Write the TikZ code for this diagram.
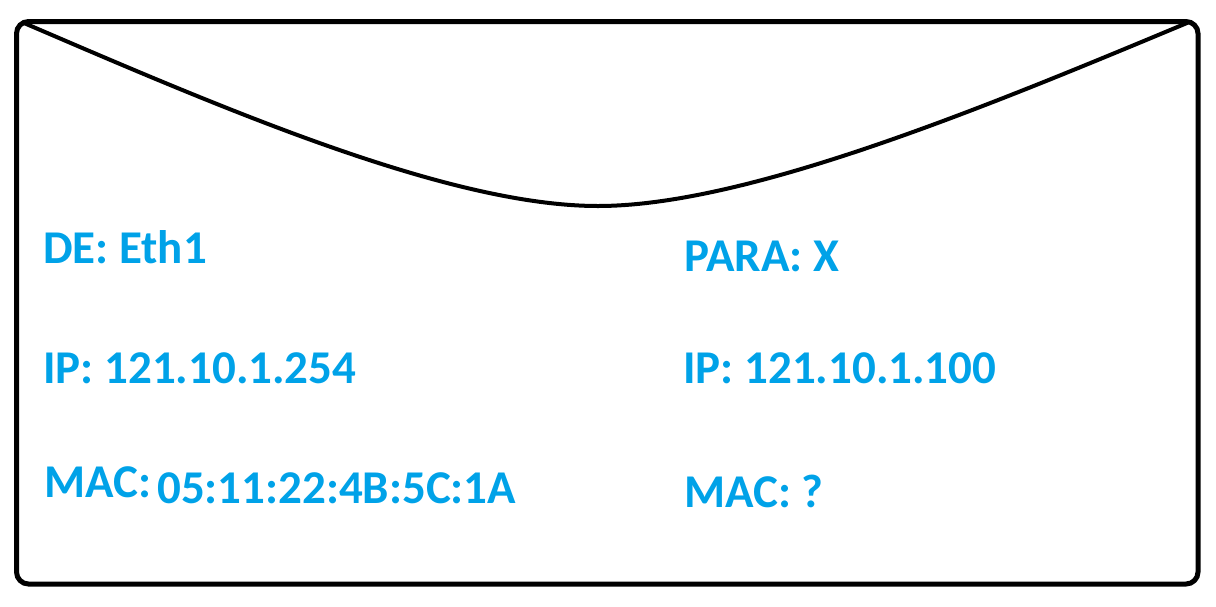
\documentclass[tikz,border=0pt]{standalone}
\usepackage{fontspec}
\setmainfont{Carlito}
\definecolor{txtblue}{RGB}{0,162,232}
\begin{document}
\begin{tikzpicture}[x=1pt,y=-1pt,
  lbl/.style={anchor=base west,inner sep=0pt,text=txtblue,font=\fontsize{47}{50}\selectfont\bfseries},
  env/.style={line width=5pt,draw=black}]
\useasboundingbox (0,0) rectangle (1216,606);
\draw[env,rounded corners=12pt] (16.5,21.5) rectangle (1198,584);
\coordinate (fl) at (24,23);
\coordinate (fb) at (598,206);
\coordinate (fr) at (1187,23);
\draw[line width=4pt,line cap=round] (fl) .. controls (222,108) and (448,206) .. (fb)
  .. controls (748,206) and (988,106) .. (fr);
\node[lbl] (de) at (43,263) {DE: Eth1};
\node[lbl] (ipl) at (43,383) {IP: 121.10.1.254};
\node[lbl] (macl) at (44,497) {MAC:};
\node[lbl] (macv) at (157,503) {05:11:22:4B:5C:1A};
\node[lbl] (para) at (684,271) {PARA: X};
\node[lbl] (ipr) at (683,383) {IP: 121.10.1.100};
\node[lbl] (macr) at (684,507) {MAC: ?};
\end{tikzpicture}
\end{document}
